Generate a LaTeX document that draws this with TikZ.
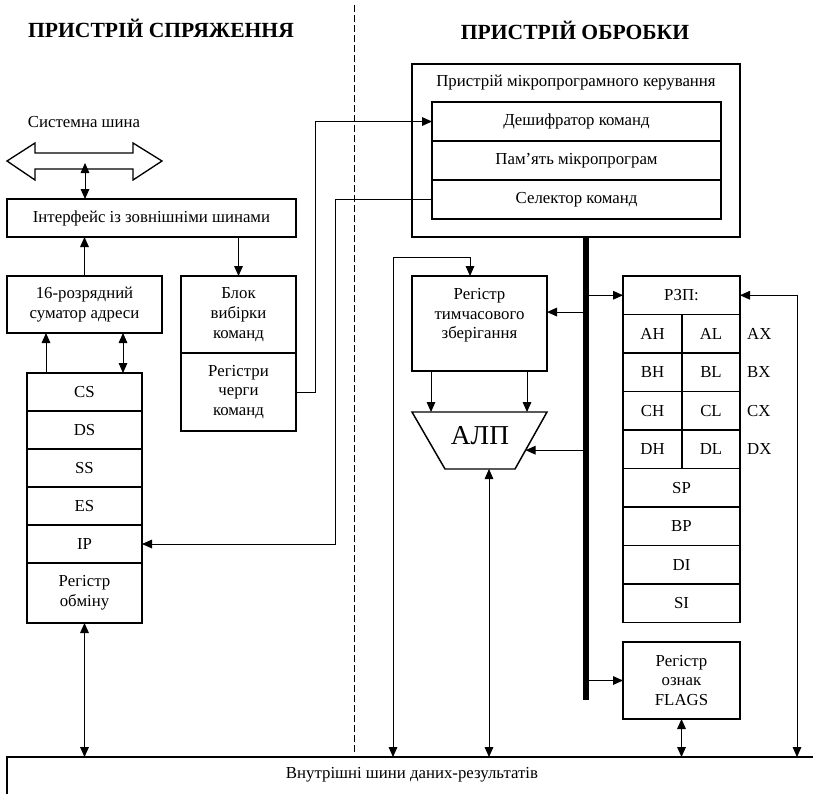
\documentclass[tikz,border=0pt]{standalone}
\usepackage{fontspec}
\setmainfont{Liberation Serif}
\usetikzlibrary{arrows.meta,positioning,calc}

\tikzset{
    wh/.style 2 args={minimum width={#1*0.75pt}, minimum height={#2*0.75pt}},
    box/.style={draw, line width=1.1pt, inner sep=1pt, outer sep=0pt, align=center},
    title/.style={font=\fontsize{16.2}{19}\selectfont\bfseries},
}

\begin{document}
\begin{tikzpicture}[
    x=0.75pt,y=0.75pt,
    yscale=-1,xscale=1,
    font=\fontsize{12.6}{14.8}\selectfont,
    >={Triangle[length=7.5pt,width=6.5pt]},
    every path/.append style={line width=0.75pt},
]
    \useasboundingbox (0,0) rectangle (813,794);

    % заголовки
    \node[title] (lefthead) at (161,28) {ПРИСТРІЙ СПРЯЖЕННЯ};
    \node[title] (righthead) at (575,30) {ПРИСТРІЙ ОБРОБКИ};
    \draw[dash pattern=on 5pt off 2.5pt] (354,5) -- (354,753);

    % системна шина
    \draw[line width=1pt] (7,161) -- (35,143) -- (35,153) -- (133,153) -- (133,143)
        -- (162,161) -- (133,180) -- (133,169) -- (35,169) -- (35,180) -- cycle;
    \coordinate (sysport) at (85,163);
    \node (syslabel) at (84,122) {Системна шина};

    % пристрій спряження
    \node[box, wh={289}{38}, anchor=north west] (iface) at (7,199) {Інтерфейс із зовнішніми шинами};
    \node[box, wh={155}{57}, anchor=north west] (adder) at (7,276) {16-розрядний\\суматор адреси};
    \node[box, wh={115}{38}, anchor=north west] (cs) at (27,373) {CS};
    \node[box, wh={115}{38}, below=0pt of cs] (ds) {DS};
    \node[box, wh={115}{38}, below=0pt of ds] (ss) {SS};
    \node[box, wh={115}{38}, below=0pt of ss] (es) {ES};
    \node[box, wh={115}{38}, below=0pt of es] (ip) {IP};
    \node[box, wh={115}{60}, below=0pt of ip] (xchg) {Регістр\\обміну};
    \node[box, wh={115}{77}, anchor=north west] (fetch) at (181,276) {Блок\\вибірки\\команд};
    \node[box, wh={115}{78}, below=0pt of fetch] (queue) {Регістри\\черги\\команд};

    % пристрій мікропрограмного керування
    \node[box, line width=1.4pt, wh={328}{173}, anchor=north west] (mpu) at (412,64) {};
    \node (mputitle) at (576,83) {Пристрій мікропрограмного керування};
    \node[box, line width=1.3pt, wh={289}{39}, anchor=north west] (dec) at (432,102) {Дешифратор команд};
    \node[box, line width=1.3pt, wh={289}{39}, below=0pt of dec] (mem) {Пам’ять мікропрограм};
    \node[box, line width=1.3pt, wh={289}{39}, below=0pt of mem] (sel) {Селектор команд};

    % пристрій обробки
    \node[box, wh={135}{95}, text depth=15pt, anchor=north west] (temp) at (412,276) {Регістр\\тимчасового\\зберігання};
    \coordinate (alutl) at (412,412);
    \coordinate (alutr) at (547,412);
    \coordinate (alubr) at (515,469);
    \coordinate (alubl) at (445,469);
    \coordinate (alur) at ($(alutr)!0.67!(alubr)$);
    \draw[line width=1.1pt] (alutl) -- (alutr) -- (alubr) -- (alubl) -- cycle;
    \node[font=\fontsize{20.5}{24}\selectfont] (alu) at (480,436) {АЛП};

    \node[box, wh={117}{38.5}, anchor=north west] (rzp) at (623,276) {РЗП:};
    \node[box, wh={59}{38.5}, anchor=north west] (ah) at (rzp.south west) {AH};
    \node[box, wh={58}{38.5}, anchor=north west] (al) at (ah.north east) {AL};
    \node[box, wh={59}{38.5}, anchor=north west] (bh) at (ah.south west) {BH};
    \node[box, wh={58}{38.5}, anchor=north west] (bl) at (bh.north east) {BL};
    \node[box, wh={59}{38.5}, anchor=north west] (ch) at (bh.south west) {CH};
    \node[box, wh={58}{38.5}, anchor=north west] (cl) at (ch.north east) {CL};
    \node[box, wh={59}{38.5}, anchor=north west] (dh) at (ch.south west) {DH};
    \node[box, wh={58}{38.5}, anchor=north west] (dl) at (dh.north east) {DL};
    \node[box, wh={117}{38.5}, anchor=north west] (sp) at (dh.south west) {SP};
    \node[box, wh={117}{38.5}, anchor=north west] (bp) at (sp.south west) {BP};
    \node[box, wh={117}{38.5}, anchor=north west] (di) at (bp.south west) {DI};
    \node[box, wh={117}{38.5}, anchor=north west] (si) at (di.south west) {SI};
    \draw[line width=1.2pt] (rzp.north west) rectangle (si.south east);
    \node[inner sep=0pt, right=5pt of al] (axlabel) {AX};
    \node[inner sep=0pt, right=5pt of bl] (bxlabel) {BX};
    \node[inner sep=0pt, right=5pt of cl] (cxlabel) {CX};
    \node[inner sep=0pt, right=5pt of dl] (dxlabel) {DX};
    \node[box, wh={117}{77}, anchor=north west] (flags) at (623,642) {Регістр\\ознак\\FLAGS};

    % шини
    \coordinate (bustop) at (mpu.south -| 586,0);
    \coordinate (busend) at (586,700);
    \draw[line width=4pt] (bustop) -- (busend);
    \coordinate (ibus) at (7,757);
    \draw[line width=1.3pt] (7,794) -- (ibus) -- (813,757);
    \node (ibuslabel) at (412,775) {Внутрішні шини даних-результатів};

    % зв'язки
    \draw[<->] (sysport) -- (sysport |- iface.north);
    \draw[->] (adder.north) -- (adder.north |- iface.south);
    \draw[->] (iface.south -| fetch.north) -- (fetch.north);
    \draw[->] (cs.north -| 46,0) -- (adder.south -| 46,0);
    \draw[<->] (cs.north -| 123,0) -- (adder.south -| 123,0);
    \draw[->] (queue.east) -- ++(19,0) |- (dec.west);
    \draw[->] (sel.west) -- ++(-97,0) |- (ip.east);
    \draw[<->] (xchg.south) -- (xchg.south |- ibus);

    \draw[->] (rzp.west -| bustop) -- (rzp.west);
    \draw[->] ([yshift=-8.6pt]temp.east -| bustop) -- ([yshift=-8.6pt]temp.east);
    \draw[->] (alur -| bustop) -- (alur);
    \draw[->] (flags.west -| bustop) -- (flags.west);
    \draw[->] (temp.south -| 431,0) -- (alutl -| 431,0);
    \draw[->] (temp.south -| 527,0) -- (alutl -| 527,0);
    \draw[<->] (alubl -| 489,0) -- (ibus -| 489,0);
    \draw[<->] (flags.south) -- (flags.south |- ibus);
    \coordinate (tloop) at (470,257);
    \draw[<->] (ibus -| 393,0) |- (tloop) -- (tloop |- temp.north);
    \draw[<->] (rzp.east) -| (ibus -| 797,0);
\end{tikzpicture}
\end{document}
